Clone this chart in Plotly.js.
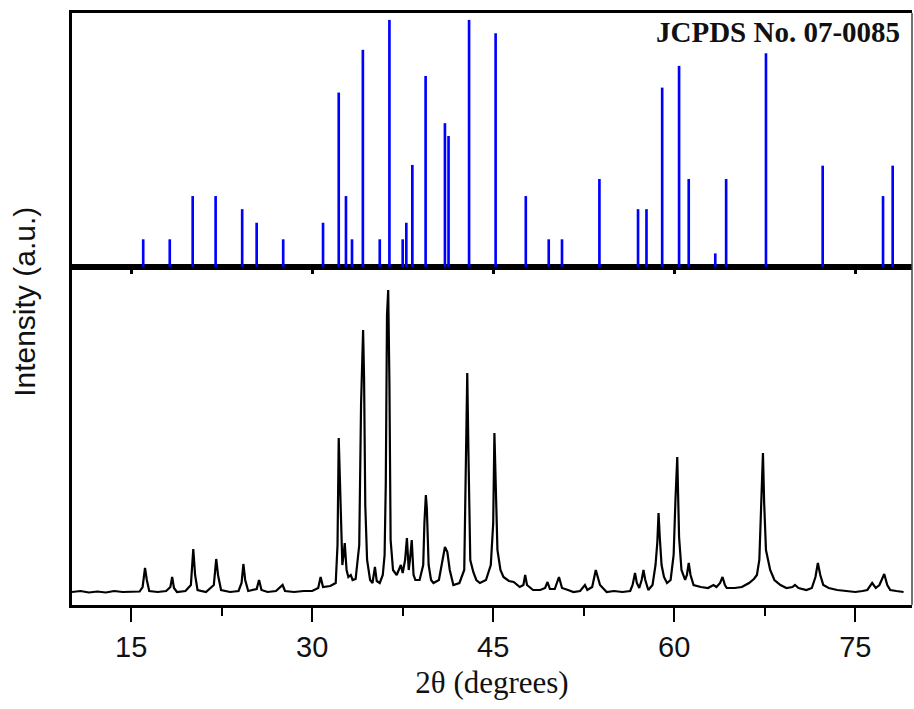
<!DOCTYPE html>
<html>
<head>
<meta charset="utf-8">
<script src="https://cdn.plot.ly/plotly-3.0.1.min.js"></script>
<style>html,body{margin:0;padding:0;background:#fff;}#chart{width:914px;height:709px;}</style>
</head>
<body>
<div id="chart"></div>
<script>
// Reference pattern (JCPDS No. 07-0085): peak positions (2θ) and relative intensities (%)
var refPos = [16.0, 18.2, 20.1, 22.0, 24.2, 25.4, 27.6, 30.9, 32.2, 32.8, 33.3, 34.2, 35.6, 36.4, 37.5, 37.8, 38.3, 39.4, 41.0, 41.3, 43.0, 45.2, 47.7, 49.6, 50.7, 53.8, 57.0, 57.7, 59.0, 60.4, 61.2, 63.4, 64.3, 67.6, 72.3, 77.3, 78.1];
var refInt = [11.2, 11.2, 28.7, 28.7, 23.4, 17.9, 11.2, 17.9, 70.6, 28.7, 11.2, 87.9, 11.2, 100, 11.2, 17.9, 41.3, 77.3, 58.2, 53.0, 100, 94.6, 28.7, 11.2, 11.2, 35.6, 23.4, 23.4, 72.6, 81.4, 35.6, 5.5, 35.6, 86.5, 41.0, 28.7, 41.0];

// Measured XRD pattern: 2θ (degrees) and intensity (a.u.)
var twoTheta = [10.1, 10.8, 11.5, 12.2, 12.9, 13.6, 14.3, 15.0, 15.7, 15.95, 16.15, 16.3, 16.5, 17.2, 17.9, 18.25, 18.4, 18.55, 18.8, 19.5, 19.95, 20.15, 20.3, 20.5, 21.2, 21.85, 22.05, 22.2, 22.45, 23.2, 23.9, 24.15, 24.3, 24.45, 24.7, 25.4, 25.6, 25.8, 26.3, 27.0, 27.4, 27.55, 27.75, 28.5, 29.3, 30.0, 30.5, 30.7, 30.9, 31.5, 31.95, 32.1, 32.2, 32.3, 32.4, 32.5, 32.6, 32.7, 32.85, 33.0, 33.2, 33.35, 33.6, 33.9, 34.05, 34.15, 34.22, 34.3, 34.4, 34.55, 34.8, 35.0, 35.2, 35.35, 35.6, 35.85, 36.0, 36.1, 36.2, 36.3, 36.4, 36.5, 36.7, 37.0, 37.2, 37.35, 37.5, 37.7, 37.85, 38.0, 38.1, 38.25, 38.4, 38.55, 38.9, 39.2, 39.3, 39.42, 39.5, 39.65, 39.85, 40.05, 40.5, 40.8, 41.0, 41.2, 41.4, 41.7, 42.2, 42.6, 42.75, 42.85, 42.95, 43.1, 43.35, 43.6, 43.9, 44.4, 44.8, 45.0, 45.1, 45.2, 45.35, 45.6, 45.85, 46.3, 46.7, 47.2, 47.5, 47.65, 47.8, 48.3, 48.9, 49.3, 49.5, 49.7, 50.1, 50.45, 50.7, 51.2, 51.65, 52.2, 52.6, 52.8, 53.2, 53.5, 53.7, 53.85, 54.4, 55.0, 55.7, 56.35, 56.55, 56.75, 56.9, 57.1, 57.3, 57.45, 57.6, 57.85, 58.2, 58.45, 58.6, 58.7, 58.8, 58.95, 59.15, 59.4, 59.7, 59.95, 60.1, 60.25, 60.4, 60.6, 60.9, 61.05, 61.2, 61.35, 61.6, 62.2, 62.8, 63.25, 63.5, 63.8, 64.0, 64.2, 64.35, 65.0, 65.6, 66.2, 66.6, 66.85, 67.05, 67.2, 67.35, 67.45, 67.6, 67.95, 68.3, 68.8, 69.3, 69.8, 70.0, 70.3, 70.95, 71.4, 71.7, 71.9, 72.1, 72.35, 72.8, 73.5, 74.2, 75.0, 75.6, 76.0, 76.4, 76.7, 77.0, 77.4, 77.65, 77.9, 78.4, 79.0];
var intensity = [13, 14, 12.5, 13.5, 12.5, 14, 13, 13, 13.5, 18, 37, 25, 14, 13, 14, 18, 28, 17, 13, 14, 20, 56, 30, 15, 13, 20, 46, 30, 15, 13, 14, 22, 41, 25, 14, 16, 25, 15, 13, 14, 18, 20, 14, 13, 14, 14, 17, 28, 18, 19, 22, 60, 167, 120, 95, 40, 50, 62, 35, 28, 30, 25, 26, 60, 200, 240, 275, 227, 100, 45, 25, 22, 38, 24, 22, 30, 50, 122, 290, 315, 223, 65, 35, 30, 36, 40, 32, 45, 67, 35, 45, 65, 30, 25, 25, 40, 82, 110, 97, 40, 25, 22, 25, 45, 58, 53, 35, 20, 22, 35, 135, 232, 150, 45, 33, 25, 22, 25, 40, 82, 172, 132, 55, 35, 28, 24, 23, 18, 20, 30, 20, 15, 15, 17, 23, 16, 16, 28, 17, 15, 13, 14, 20, 15, 18, 35, 26, 20, 13, 14, 13, 14, 20, 32, 22, 17, 25, 35, 25, 15, 20, 40, 63, 92, 68, 40, 28, 22, 25, 50, 105, 148, 68, 35, 25, 30, 42, 30, 20, 18, 17, 20, 18, 22, 28, 20, 17, 17, 18, 22, 26, 30, 45, 90, 152, 102, 55, 35, 25, 20, 17, 18, 20, 17, 15, 17, 28, 42, 30, 20, 17, 15, 14, 13, 14, 15, 22, 17, 20, 31, 20, 15, 14, 13];

var xTicks = [15, 30, 45, 60, 75];

var traces = [
  {
    type: 'scatter', mode: 'lines', x: twoTheta, y: intensity,
    xaxis: 'x', yaxis: 'y',
    line: {color: '#000000', width: 2.2}, hoverinfo: 'x+y'
  },
  {
    type: 'bar', x: refPos, y: refInt, width: 0.22,
    xaxis: 'x2', yaxis: 'y2',
    marker: {color: '#0000ff', line: {width: 0}}
  }
];

var layout = {
  width: 914, height: 709,
  margin: {l: 72, r: 2, t: 13, b: 104},
  paper_bgcolor: '#ffffff', plot_bgcolor: '#ffffff',
  showlegend: false,
  font: {family: 'Liberation Sans, Arial, sans-serif', color: '#111111'},
  xaxis: {
    anchor: 'y', domain: [0, 1], range: [10.1, 79.7],
    tickmode: 'array', tickvals: xTicks, ticktext: xTicks.map(String),
    ticks: 'outside', ticklen: 14, tickwidth: 2, tickcolor: '#000',
    minor: {tickmode: 'array', tickvals: [22.5, 37.5, 52.5, 67.5], ticks: 'outside', ticklen: 8, tickwidth: 2, tickcolor: '#000'},
    tickfont: {family: 'Liberation Sans, Arial, sans-serif', size: 29, color: '#111'},
    showline: true, linewidth: 3, linecolor: '#000', mirror: true,
    showgrid: false, zeroline: false,
    title: {text: '2θ (degrees)', font: {family: 'Liberation Serif, Times New Roman, serif', size: 31, color: '#111'}, standoff: 10}
  },
  yaxis: {
    anchor: 'x', domain: [0, 0.571], range: [0, 338],
    showticklabels: false, ticks: '', showgrid: false, zeroline: false,
    showline: true, linewidth: 3, linecolor: '#000'
  },
  xaxis2: {
    anchor: 'y2', matches: 'x', domain: [0, 1],
    tickmode: 'array', tickvals: xTicks,
    ticks: 'outside', ticklen: 4, tickwidth: 3, tickcolor: '#000',
    showticklabels: false,
    showline: true, linewidth: 3, linecolor: '#000', mirror: true,
    showgrid: false, zeroline: false
  },
  yaxis2: {
    anchor: 'x2', domain: [0.571, 1], range: [0, 102.8],
    showticklabels: false, ticks: '', showgrid: false, zeroline: false,
    showline: true, linewidth: 3, linecolor: '#000'
  },
  shapes: [
    {type: 'line', xref: 'paper', yref: 'paper', x0: 1, x1: 1, y0: 0, y1: 1, line: {color: '#444', width: 1.5}}
  ],
  annotations: [
    {text: 'Intensity (a.u.)', xref: 'paper', yref: 'paper', x: -0.056, y: 0.512, textangle: -90,
     showarrow: false, xanchor: 'center', yanchor: 'middle',
     font: {family: 'Liberation Sans, Arial, sans-serif', size: 30, color: '#111'}},
    {text: '<b>JCPDS No. 07-0085</b>', xref: 'paper', yref: 'paper', x: 0.988, y: 0.968,
     showarrow: false, xanchor: 'right', yanchor: 'middle',
     font: {family: 'Liberation Serif, Times New Roman, serif', size: 29, color: '#111'}}
  ]
};

Plotly.newPlot('chart', traces, layout, {staticPlot: true, displayModeBar: false});
</script>
</body>
</html>
